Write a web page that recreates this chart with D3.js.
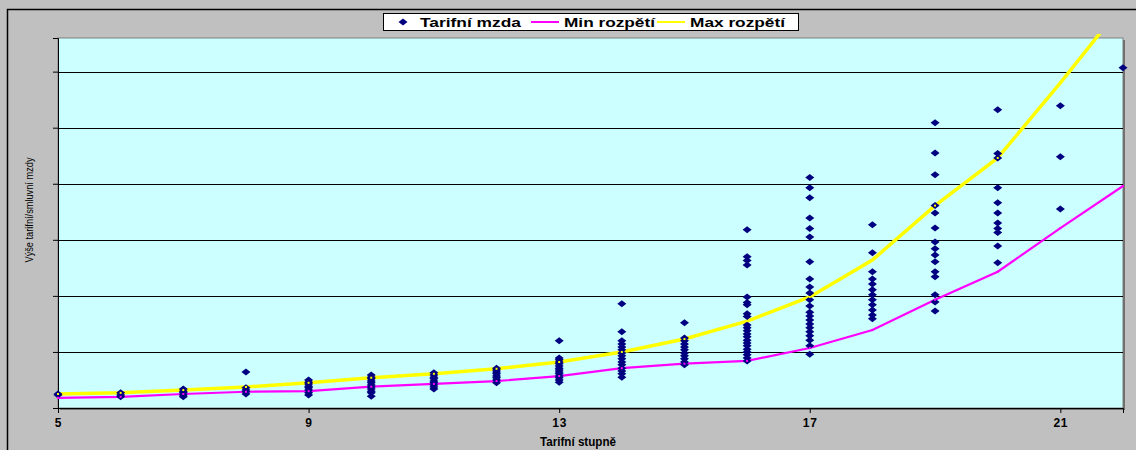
<!DOCTYPE html>
<html>
<head>
<meta charset="utf-8">
<script src="https://cdn.jsdelivr.net/npm/d3@7"></script>
<style>
  body { margin: 0; background: #c0c0c0; }
  svg { display: block; font-family: "Liberation Sans", Arial, sans-serif; }
</style>
</head>
<body>
<svg id="chart" width="1136" height="450"></svg>
<script>
// tarifni stupne (x)
const grades = [5, 6, 7, 8, 9, 10, 11, 12, 13, 14, 15, 16, 17, 18, 19, 20, 21, 22];

// min / max rozpeti per stupen (Kc)
const minRange = [6800, 7000, 7500, 7900, 8000, 8800, 9300, 9800, 10700, 12100, 12900, 13400, 15700, 18900, 24300, 29300, 37100, 44600];
const maxRange = [7500, 7700, 8200, 8750, 9500, 10400, 11100, 12000, 13200, 15000, 17300, 20500, 24800, 31400, 41100, 49600, 63000, 77000];

// tarifni mzdy, one list per stupen
const wages = [
  [7500, 7300],
  [7700, 7300, 7000],
  [8400, 8000, 7700, 7300, 7000],
  [11400, 8600, 8200, 7900, 7500],
  [10000, 9600, 9300, 8900, 8600, 8200, 7700, 7300],
  [10900, 10500, 10200, 9800, 9500, 9100, 8750, 8400, 8000, 7700, 7100],
  [11300, 10900, 10500, 10200, 9800, 9500, 9100, 8750, 8400],
  [12100, 11800, 11400, 11100, 10700, 10400, 10000, 9500],
  [17000, 13900, 13600, 13200, 12900, 12500, 12100, 11800, 11400, 11100, 10700, 10400, 10000, 9600],
  [23600, 18600, 17000, 16400, 15900, 15400, 14800, 14300, 13800, 13200, 12700, 12100, 11600, 11100, 10500],
  [20200, 17500, 17000, 16400, 15900, 15400, 14800, 14300, 13800, 13200, 12700],
  [36800, 32000, 31300, 30500, 24800, 23800, 23400, 21800, 21300, 19800, 19300, 18800, 18200, 17700, 17100, 16600, 16100, 15500, 15000, 14500, 13900, 13400],
  [46100, 44300, 42500, 38900, 37000, 35500, 31100, 28000, 26600, 25500, 24300, 23200, 22100, 21400, 20700, 20000, 19300, 18600, 17900, 17100, 16100, 14600],
  [37700, 32700, 29300, 28000, 27100, 26100, 25200, 24300, 23400, 22500, 21600, 20900],
  [55900, 50500, 46600, 41100, 39800, 37100, 34600, 33400, 32300, 31100, 29300, 28400, 25200, 23900, 22300],
  [58200, 50400, 49600, 44300, 41600, 39800, 38000, 37000, 36300, 33900, 30900],
  [58900, 49800, 40500],
  [65700]
];

const xTicks = [5, 9, 13, 17, 21];
const yTicks = [15000, 25000, 35000, 45000, 55000, 65000];

const legendItems = [
  { label: "Tarifní mzda", kind: "marker", color: "#000080", width: 101 },
  { label: "Min rozpětí", kind: "line", color: "#ff00ff", width: 91 },
  { label: "Max rozpětí", kind: "line", color: "#ffff00", width: 95 }
];

const plot = { left: 58, right: 1123, top: 38, bottom: 408 };

const svg = d3.select("#chart");

// chart area
svg.append("rect")
  .attr("x", 7.5).attr("y", 9.5)
  .attr("width", 1140).attr("height", 460)
  .attr("fill", "#c0c0c0")
  .attr("stroke", "#000").attr("stroke-width", 1.5);

const xScale = d3.scaleLinear()
  .domain([5, 22])
  .range([plot.left, plot.right]);

const yScale = d3.scaleLinear()
  .domain([5000, 71000])
  .range([plot.bottom, plot.top]);

// plot area
svg.append("rect")
  .attr("x", plot.left).attr("y", plot.top)
  .attr("width", plot.right - plot.left).attr("height", plot.bottom - plot.top)
  .attr("fill", "#ccffff")
  .attr("stroke", "#808080").attr("stroke-width", 1);

// right / bottom shadow of plot area
svg.append("path")
  .attr("d", `M${plot.right + 1},${plot.top + 2}V${plot.bottom + 1}H${plot.left + 2}`)
  .attr("fill", "none")
  .attr("stroke", "#707070")
  .attr("stroke-width", 2);

// gridlines
svg.append("g")
  .selectAll("line")
  .data(yTicks)
  .join("line")
  .attr("x1", plot.left).attr("x2", plot.right)
  .attr("y1", d => Math.round(yScale(d)) + 0.5)
  .attr("y2", d => Math.round(yScale(d)) + 0.5)
  .attr("stroke", "#000").attr("stroke-width", 1);

// y axis (no labels)
const yAxis = svg.append("g")
  .attr("transform", `translate(${plot.left},0)`)
  .call(d3.axisLeft(yScale).tickValues(yTicks).tickSize(5).tickFormat(""));
yAxis.select(".domain").attr("stroke", "#000");
yAxis.selectAll(".tick line").attr("stroke", "#000");

// x axis
const xAxis = svg.append("g")
  .attr("transform", `translate(0,${plot.bottom})`)
  .call(d3.axisBottom(xScale).tickValues(xTicks).tickSize(5).tickPadding(5));
xAxis.select(".domain").attr("stroke", "#000");
xAxis.selectAll(".tick line").attr("stroke", "#000");
xAxis.selectAll(".tick text")
  .style("font-family", "'Liberation Sans', Arial, sans-serif")
  .style("font-size", "12px")
  .style("font-weight", "bold")
  .attr("letter-spacing", 0.8)
  .attr("fill", "#000");

// axis titles
svg.append("text")
  .attr("x", 578).attr("y", 446)
  .attr("text-anchor", "middle")
  .style("font-size", "12px").style("font-weight", "bold")
  .attr("textLength", 76).attr("lengthAdjust", "spacingAndGlyphs")
  .text("Tarifní stupně");

svg.append("text")
  .attr("transform", `translate(33,210) rotate(-90)`)
  .attr("text-anchor", "middle")
  .style("font-size", "10px")
  .attr("textLength", 105).attr("lengthAdjust", "spacingAndGlyphs")
  .text("Výše tarifní/smluvní mzdy");

// lines
const lineGen = (values) => d3.line()
  .x((d, i) => xScale(grades[i]))
  .y(d => yScale(d))(values);

svg.append("defs").append("clipPath").attr("id", "clip")
  .append("rect")
  .attr("x", plot.left - 5).attr("y", plot.top - 4)
  .attr("width", plot.right - plot.left + 10).attr("height", plot.bottom - plot.top + 10);

const lines = svg.append("g").attr("clip-path", "url(#clip)");

lines.append("path")
  .attr("d", lineGen(maxRange))
  .attr("fill", "none").attr("stroke", "#ffff00").attr("stroke-width", 3.5);

lines.append("path")
  .attr("d", lineGen(minRange))
  .attr("fill", "none").attr("stroke", "#ff00ff").attr("stroke-width", 2.2);

// scatter points
const points = wages.flatMap((list, i) => list.map(w => ({ grade: grades[i], wage: w })));
const diamond = "M-4.5,0L0,-3.5L4.5,0L0,3.5Z";

svg.append("g")
  .selectAll("path")
  .data(points)
  .join("path")
  .attr("d", diamond)
  .attr("transform", d => `translate(${xScale(d.grade)},${yScale(d.wage)})`)
  .attr("fill", "#000080");

// tiny markers of line series on top
const tiny = svg.append("g").attr("clip-path", "url(#clip)");
[[maxRange, "#ffff00"], [minRange, "#ff00ff"]].forEach(([vals, col]) => {
  tiny.selectAll(null)
    .data(vals)
    .join("rect")
    .attr("x", (d, i) => xScale(grades[i]) - 1)
    .attr("y", d => yScale(d) - 1)
    .attr("width", 2).attr("height", 2)
    .attr("fill", col);
});

// legend
const legend = svg.append("g");
legend.append("rect")
  .attr("x", 383.5).attr("y", 13.5)
  .attr("width", 415).attr("height", 17)
  .attr("fill", "#fff")
  .attr("stroke", "#000").attr("stroke-width", 1);

const legendX = [403, 531, 657];
legendItems.forEach((item, i) => {
  const g = legend.append("g").attr("transform", `translate(${legendX[i]},22)`);
  if (item.kind === "marker") {
    g.append("path").attr("d", diamond).attr("fill", item.color);
  } else {
    g.append("line").attr("x1", 0).attr("x2", 28).attr("y1", 0).attr("y2", 0)
      .attr("stroke", item.color).attr("stroke-width", 2);
  }
  g.append("text").attr("x", item.kind === "marker" ? 17 : 33).attr("y", 4.5)
    .style("font-size", "13px").style("font-weight", "bold")
    .attr("textLength", item.width).attr("lengthAdjust", "spacingAndGlyphs")
    .text(item.label);
});
</script>
</body>
</html>
